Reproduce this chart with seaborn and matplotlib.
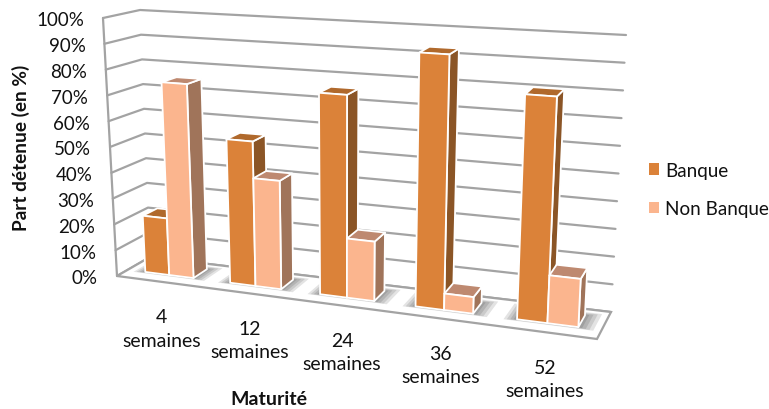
import numpy as np
import pandas as pd
import seaborn as sns
import matplotlib
matplotlib.use('Agg')
import matplotlib.pyplot as plt
from matplotlib.patches import Patch, Polygon

categories = ['4\nsemaines', '12\nsemaines', '24\nsemaines', '36\nsemaines', '52\nsemaines']
banque = [22, 55, 75.5, 93, 80.5]
non_banque = [75, 41, 22, 6, 17]
y_ticks = [0, 10, 20, 30, 40, 50, 60, 70, 80, 90, 100]

sns.set_theme(style='white')
plt.rcParams['font.family'] = ['Lato', 'DejaVu Sans']

colours = {'Banque': ('#DB8239', '#8B5526', '#B0692C'),
           'Non Banque': ('#FBB58E', '#A0745A', '#BE8970')}
GRID = '#A3A3A3'
TEXT = '#111111'

df = pd.DataFrame({'Maturité': categories * 2,
                   'Part': banque + non_banque,
                   'Série': ['Banque'] * 5 + ['Non Banque'] * 5})

fig = plt.figure(figsize=(7.69, 4.10), dpi=100)
ax = fig.add_axes([0, 0, 1, 1])

# seaborn computes the bars, they are then redrawn through the oblique view below
sns.barplot(data=df, x='Maturité', y='Part', hue='Série', width=0.575, gap=0, legend=False, ax=ax)
bars = {name: [(p.get_x(), p.get_width(), p.get_height()) for p in cont]
        for name, cont in zip(['Banque', 'Non Banque'], ax.containers)}
for cont in list(ax.containers):
    cont.remove()
ax.set_xlim(0, 769)
ax.set_ylim(410, 0)
ax.set_axis_off()

# box corners in pixels: floor and top, front and back
FL0, FR0, BL0, BR0 = np.array([[117, 277], [597, 340], [150, 258], [611, 313]], dtype=float)
FL1, FR1, BL1, BR1 = np.array([[103, 19], [612, 51], [140, 11], [626, 36]], dtype=float)


def project(x, v, d):
    # x in category units, v in percent, d: 0 front of floor, 1 back wall
    u = (x + 0.5) / 5
    u = 0.86 * u / (1 - 0.14 * u)
    t = v / 100
    f = (1 - u) * ((1 - t) * FL0 + t * FL1) + u * ((1 - t) * FR0 + t * FR1)
    b = (1 - u) * ((1 - t) * BL0 + t * BL1) + u * ((1 - t) * BR0 + t * BR1)
    return (1 - d) * f + d * b


# floor
ax.add_patch(Polygon([project(-0.5, 0, 0), project(4.5, 0, 0), project(4.5, 0, 1), project(-0.5, 0, 1)],
                     closed=True, fc='white', ec=GRID, lw=1.6, zorder=2))

# walls
for tick in y_ticks:
    pts = np.array([project(-0.5, tick, 0), project(-0.5, tick, 1), project(4.5, tick, 1)])
    ax.plot(pts[:, 0], pts[:, 1], color=GRID, lw=1.6, zorder=1)
    ax.text(pts[0, 0] - 19, pts[0, 1] + 2, f'{tick}%', ha='right', va='center', fontsize=13.5, color=TEXT)
edge = np.array([project(-0.5, 0, 0), project(-0.5, 100, 0)])
ax.plot(edge[:, 0], edge[:, 1], color=GRID, lw=1.6, zorder=1)

# bars
D0, D1 = 0.33, 0.77
for i in range(len(categories)):
    group = [bars['Banque'][i], bars['Non Banque'][i]]
    x_min, x_max = group[0][0], group[1][0] + group[1][1]
    z = 10 + i * 10
    # soft shadow on the floor
    for grow in (0.12, 0.09, 0.06, 0.03):
        ax.add_patch(Polygon([project(x_min - grow, 0, D0 - grow * 0.5), project(x_max + grow * 1.2, 0, D0 - grow * 0.5),
                              project(x_max + grow * 1.2, 0, D1 + grow), project(x_min - grow, 0, D1 + grow)],
                             closed=True, fc='black', ec='none', alpha=0.11, zorder=z - 1))
    for j, name in enumerate(['Banque', 'Non Banque']):
        x, w, h = group[j]
        front, side, top = colours[name]
        style = dict(closed=True, ec='white', lw=1.3, joinstyle='round', zorder=z + j)
        ax.add_patch(Polygon([project(x + w, 0, D0), project(x + w, 0, D1), project(x + w, h, D1), project(x + w, h, D0)],
                             fc=side, **style))
        ax.add_patch(Polygon([project(x, h, D0), project(x + w, h, D0), project(x + w, h, D1), project(x, h, D1)],
                             fc=top, **style))
        ax.add_patch(Polygon([project(x, 0, D0), project(x + w, 0, D0), project(x + w, h, D0), project(x, h, D0)],
                             fc=front, **style))

# labels
for i, label in enumerate(categories):
    px, py = project(i, 0, 0)
    ax.text(px + 3, py + 47, label, ha='center', va='center', fontsize=14, color=TEXT, linespacing=1.45)

ax.text(21, 148, 'Part détenue (en %)', rotation=90, ha='center', va='center',
        fontsize=13.7, fontweight='bold', color=TEXT)
ax.text(269, 400, 'Maturité', ha='center', va='center', fontsize=14, fontweight='bold', color=TEXT)

handles = [Patch(fc=colours[name][0], ec='none', label=name) for name in colours]
ax.legend(handles=handles, loc='center left', bbox_to_anchor=(649 / 769, 1 - 190.5 / 410), frameon=False,
          fontsize=13.6, handlelength=0.53, handleheight=0.53, handletextpad=0.32, labelspacing=1.15,
          labelcolor=TEXT, borderpad=0, borderaxespad=0)

fig.savefig('out.png', dpi=100)
